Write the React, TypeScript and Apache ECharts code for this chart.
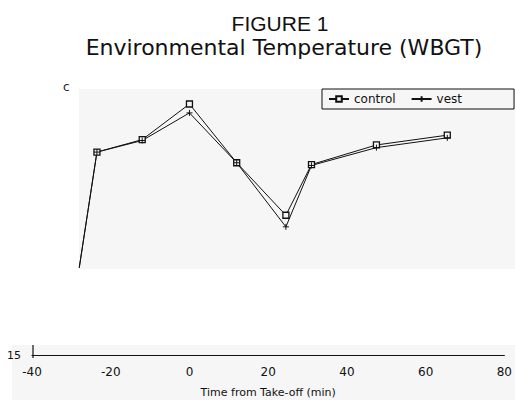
import React, { useEffect, useRef } from "react";
import * as echarts from "echarts";

const times = [-28, -23.5, -12, 0, 12, 24.5, 31, 47.5, 65.5];
const controlValues = [19.9, 26.4, 27.1, 29.1, 25.8, 22.85, 25.7, 26.8, 27.35];
const vestValues = [19.9, 26.4, 27.05, 28.6, 25.8, 22.2, 25.65, 26.65, 27.2];
const xTicks = [-40, -20, 0, 20, 40, 60, 80];
const yTicks = [15, 30];

const App: React.FC = () => {
  const ref = useRef<HTMLDivElement>(null);
  useEffect(() => {
    if (!ref.current) return;
    const chart = echarts.init(ref.current, null, { renderer: "svg" });
    const toData = (vals: number[]) =>
      times.map((t, i) => (i === 0 ? { value: [t, vals[i]], symbol: "none" } : { value: [t, vals[i]] }));
    const plus = "path://M0,5L10,5M5,0L5,10";
    chart.setOption({
      animation: false,
      backgroundColor: "#ffffff",
      title: [
        {
          text: "FIGURE 1",
          left: 275,
          textAlign: "center",
          top: 8,
          textStyle: { fontFamily: "Liberation Sans", fontSize: 21, fontWeight: "normal", color: "#111" },
        },
        {
          text: "Environmental Temperature (WBGT)",
          left: 279,
          textAlign: "center",
          top: 31,
          textStyle: { fontFamily: "DejaVu Sans", fontSize: 22, fontWeight: "normal", color: "#111" },
        },
      ],
      legend: {
        left: 322,
        top: 89,
        itemGap: 15,
        itemWidth: 20,
        itemHeight: 7,
        padding: [4, 52, 4, 6],
        borderColor: "#111",
        borderWidth: 1,
        textStyle: { fontFamily: "DejaVu Sans", fontSize: 12, color: "#111" },
        data: ["control", "vest"],
      },
      graphic: [
        { type: "rect", shape: { x: 79, y: 89, width: 436, height: 180 }, style: { fill: "#f6f6f6" }, z: -10 },
        { type: "rect", shape: { x: 12, y: 345, width: 503, height: 55 }, style: { fill: "#f6f6f6" }, z: -10 },
        { type: "line", shape: { x1: 33, y1: 345, x2: 33, y2: 358 }, style: { stroke: "#111", lineWidth: 1.2 } },
        { type: "text", x: 63, y: 81, style: { text: "c", fontFamily: "DejaVu Sans", fontSize: 12, fill: "#222" } },
      ],
      grid: { left: 32, right: 6, top: 88, bottom: 45 },
      xAxis: {
        type: "value",
        min: -40,
        max: 80,
        interval: 20,
        name: "Time from Take-off (min)",
        nameLocation: "middle",
        nameGap: 32,
        nameTextStyle: { fontFamily: "DejaVu Sans", fontSize: 11, color: "#111" },
        axisLine: { show: true, lineStyle: { color: "#111", width: 1.2 } },
        axisTick: { show: false },
        splitLine: { show: false },
        axisLabel: {
          margin: 11,
          fontFamily: "DejaVu Sans",
          fontSize: 12,
          color: "#111",
          formatter: (v: number) => (xTicks.includes(v) ? String(v) : ""),
        },
      },
      yAxis: {
        type: "value",
        min: 15,
        max: 30,
        interval: 15,
        axisLine: { show: false },
        axisTick: { show: false },
        splitLine: { show: false },
        axisLabel: {
          margin: 11,
          fontFamily: "DejaVu Sans",
          fontSize: 11,
          color: "#111",
          formatter: (v: number) => (v === yTicks[0] ? String(v) : ""),
        },
      },
      series: [
        {
          name: "control",
          type: "line",
          data: toData(controlValues),
          symbol: "rect",
          symbolSize: 6,
          showAllSymbol: true,
          lineStyle: { color: "#111", width: 1 },
          itemStyle: { color: "#f6f6f6", borderColor: "#111", borderWidth: 1.3 },
        },
        {
          name: "vest",
          type: "line",
          data: toData(vestValues),
          symbol: plus,
          symbolSize: 6,
          lineStyle: { color: "#111", width: 1 },
          itemStyle: { color: "#111", borderColor: "#111", borderWidth: 1 },
        },
      ],
    });
    return () => chart.dispose();
  }, []);
  return <div ref={ref} style={{ position: "fixed", left: 0, top: 0, width: 515, height: 403 }} />;
};

export default App;
